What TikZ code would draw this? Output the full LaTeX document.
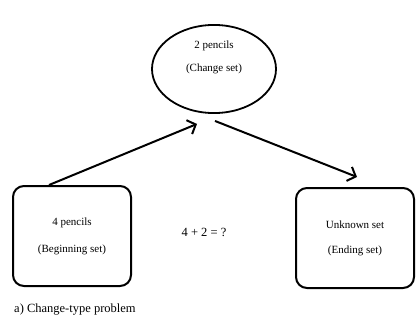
\documentclass[tikz,border=0pt]{standalone}
\usepackage{fontspec}
\setmainfont{Liberation Serif}
\usepackage{tikz}
\usetikzlibrary{shapes.geometric,arrows.meta}

\begin{document}
\begin{tikzpicture}[
  x=1pt, y=1pt,
  every node/.style={font=\fontsize{11}{13}\selectfont, align=center},
  setbox/.style={draw, line width=2pt, rounded corners=11pt, minimum width=118pt, minimum height=100pt},
  changeset/.style={draw, ellipse, line width=1.8pt, minimum width=124pt, minimum height=78pt},
  arr/.style={draw, line width=2pt, -{Straight Barb[length=7pt,width=15pt]}}
]
\useasboundingbox (0,0) rectangle (419,322);
\node[changeset] (change) at (214,253) {2 pencils\\[10pt](Change set)\\[12pt]\mbox{}};
\node[setbox] (begin) at (72,86) {4 pencils\\[14pt](Beginning set)};
\node[setbox] (end) at (355,84) {Unknown set\\[12pt](Ending set)};
\node[font=\fontsize{12.5}{14}\selectfont] (sum) at (204,90) {4 + 2 = ?};
\node[font=\fontsize{12.5}{14}\selectfont, anchor=west, inner sep=0pt] (caption) at (14,12) {a) Change-type problem};
\draw[arr] ([xshift=-23pt]begin.north) -- ([xshift=-17pt,yshift=-10pt]change.south);
\draw[arr] ([xshift=1pt,yshift=-7pt]change.south) -- ([xshift=2pt,yshift=10pt]end.north);
\end{tikzpicture}
\end{document}
